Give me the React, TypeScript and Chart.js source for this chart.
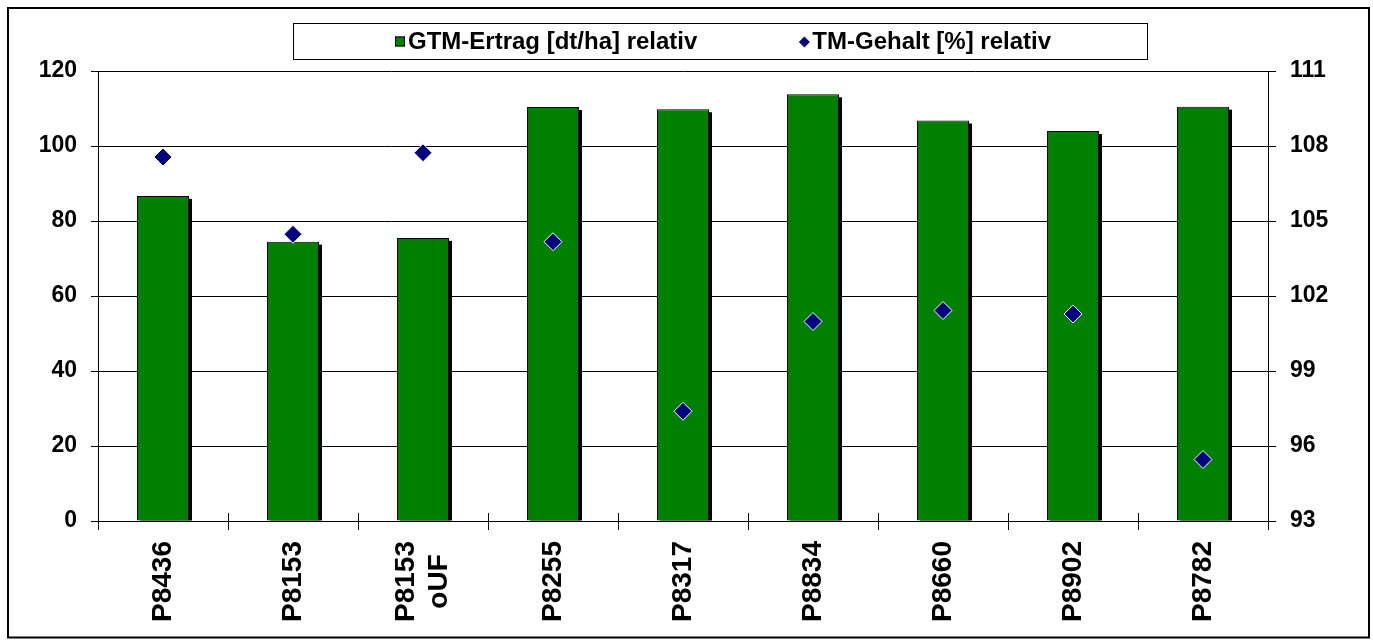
import React, { useEffect, useRef } from 'react';
import { Chart, registerables } from 'chart.js';

Chart.register(...registerables);

// ---- data ----
const categories: (string | string[])[] = [
  'P8436',
  'P8153',
  ['P8153', 'oUF'],
  'P8255',
  'P8317',
  'P8834',
  'P8660',
  'P8902',
  'P8782',
];
const gtmErtrag = [86.7, 74.5, 75.5, 110.4, 109.8, 113.8, 106.8, 104.0, 110.5];
const tmGehalt = [107.56, 104.47, 107.73, 104.17, 97.39, 100.98, 101.42, 101.28, 95.46];
const seriesNames = ['GTM-Ertrag [dt/ha] relativ', 'TM-Gehalt [%] relativ'];
const leftAxisTicks = { min: 0, max: 120, step: 20 };
const rightAxisTicks = { min: 93, max: 111, step: 3 };

const FONT = "Arial, 'Liberation Sans', Helvetica, sans-serif";
const GREEN = '#008000';
const NAVY = '#000080';

const framePlugin = {
  id: 'framePlugin',
  beforeDraw(chart: any) {
    const ctx = chart.ctx;
    ctx.save();
    ctx.fillStyle = '#fff';
    ctx.fillRect(0, 0, chart.width, chart.height);
    ctx.strokeStyle = '#000';
    ctx.lineWidth = 2;
    ctx.strokeRect(8, 8, chart.width - 12, chart.height - 12.5);
    ctx.restore();
  },
  beforeDatasetsDraw(chart: any) {
    const ctx = chart.ctx;
    const meta = chart.getDatasetMeta(0);
    ctx.save();
    ctx.fillStyle = '#000';
    meta.data.forEach((el: any) => {
      const p = el.getProps(['x', 'y', 'base', 'width'], true);
      const left = p.x - p.width / 2 + 3;
      ctx.fillRect(left, p.y + 3, p.width, p.base - p.y - 3);
    });
    const xs = chart.scales.x;
    const bottom = chart.chartArea.bottom;
    ctx.strokeStyle = '#000';
    ctx.lineWidth = 1;
    for (let i = 0; i <= chart.data.labels.length; i++) {
      const px = Math.round(xs.getPixelForValue(i - 0.5)) + 0.5;
      ctx.beginPath();
      ctx.moveTo(px, bottom - 8);
      ctx.lineTo(px, bottom);
      ctx.stroke();
    }
    ctx.restore();
  },
  afterDraw(chart: any) {
    const ctx = chart.ctx;
    const xs = chart.scales.x;
    ctx.save();
    // category labels, rotated
    ctx.fillStyle = '#000';
    ctx.font = `bold 28px ${FONT}`;
    const labels = chart.data.labels;
    const top = chart.chartArea.bottom + 20;
    const lh = 33;
    labels.forEach((lab: any, i: number) => {
      const lines: string[] = Array.isArray(lab) ? lab : [lab];
      const w = Math.max(...lines.map((l) => ctx.measureText(l).width));
      const cx = xs.getPixelForTick(i);
      const cy = top + w / 2;
      ctx.save();
      ctx.translate(cx, cy);
      ctx.rotate(-Math.PI / 2);
      ctx.textAlign = 'center';
      ctx.textBaseline = 'middle';
      lines.forEach((l, j) => ctx.fillText(l, 0, (j - (lines.length - 1) / 2) * lh));
      ctx.restore();
    });

    // legend
    const ds = chart.data.datasets;
    ctx.strokeStyle = '#000';
    ctx.lineWidth = 1;
    ctx.strokeRect(293.5, 23.5, 854, 36);
    ctx.font = `bold 24px ${FONT}`;
    ctx.textAlign = 'left';
    ctx.textBaseline = 'middle';
    const cy = 42;
    let x = 395;
    ctx.fillStyle = ds[0].backgroundColor;
    ctx.fillRect(x, cy - 5.5, 10, 10);
    ctx.strokeRect(x + 0.5, cy - 5, 9, 9);
    ctx.fillStyle = '#000';
    ctx.fillText(ds[0].label, x + 13, cy);
    x = x + 13 + ctx.measureText(ds[0].label).width + 102;
    ctx.fillStyle = ds[1].backgroundColor;
    ctx.beginPath();
    ctx.moveTo(x + 5, cy - 5.5);
    ctx.lineTo(x + 10.5, cy);
    ctx.lineTo(x + 5, cy + 5.5);
    ctx.lineTo(x - 0.5, cy);
    ctx.closePath();
    ctx.fill();
    ctx.fillStyle = '#000';
    ctx.fillText(ds[1].label, x + 13, cy);
    ctx.restore();
  },
};

export default function App() {
  const canvasRef = useRef<HTMLCanvasElement | null>(null);

  useEffect(() => {
    const canvas = canvasRef.current;
    if (!canvas) return;
    const chart = new Chart(canvas, {
      type: 'bar',
      data: {
        labels: categories as any,
        datasets: [
          {
            type: 'bar',
            label: seriesNames[0],
            data: gtmErtrag,
            backgroundColor: GREEN,
            borderColor: '#000',
            borderWidth: 1,
            barPercentage: 0.4,
            categoryPercentage: 1,
            yAxisID: 'y',
            order: 1,
          } as any,
          {
            type: 'line',
            label: seriesNames[1],
            data: tmGehalt,
            showLine: false,
            backgroundColor: NAVY,
            borderColor: '#fff',
            pointStyle: 'rectRot',
            pointRadius: 9,
            pointBorderWidth: 1,
            pointBackgroundColor: NAVY,
            pointBorderColor: '#fff',
            yAxisID: 'y2',
            order: 0,
          } as any,
        ],
      },
      options: {
        animation: false,
        responsive: false,
        maintainAspectRatio: false,
        devicePixelRatio: 1,
        layout: { padding: { top: 71, left: 0, right: 0, bottom: 0 } },
        plugins: {
          legend: { display: false },
          tooltip: { enabled: false },
          title: { display: false },
        },
        scales: {
          x: {
            type: 'category',
            offset: true,
            grid: {
              offset: true,
              drawOnChartArea: false,
              drawTicks: true,
              tickLength: 9,
              color: '#000',
              lineWidth: 1,
            },
            border: { display: true, color: '#000', width: 1 },
            ticks: { display: false },
            afterFit: (scale: any) => {
              scale.height = 121;
            },
          },
          y: {
            position: 'left',
            min: leftAxisTicks.min,
            max: leftAxisTicks.max,
            ticks: {
              stepSize: leftAxisTicks.step,
              color: '#000',
              font: { family: FONT, size: 23, weight: 'bold' },
              padding: 14,
            },
            grid: { color: '#000', lineWidth: 1, tickLength: 7, drawTicks: true },
            border: { display: true, color: '#000', width: 1 },
            afterFit: (scale: any) => {
              scale.width = 98;
            },
          },
          y2: {
            position: 'right',
            min: rightAxisTicks.min,
            max: rightAxisTicks.max,
            ticks: {
              stepSize: rightAxisTicks.step,
              color: '#000',
              font: { family: FONT, size: 23, weight: 'bold' },
              padding: 14,
            },
            grid: { drawOnChartArea: false, color: '#000', lineWidth: 1, tickLength: 8, drawTicks: true },
            border: { display: true, color: '#000', width: 1 },
            afterFit: (scale: any) => {
              scale.width = 105;
            },
          },
        },
      } as any,
      plugins: [framePlugin],
    });
    return () => chart.destroy();
  }, []);

  return (
    <div style={{ position: 'fixed', left: 0, top: 0, width: 1373, height: 642, background: '#fff' }}>
      <canvas ref={canvasRef} width={1373} height={642} style={{ display: 'block' }} />
    </div>
  );
}
